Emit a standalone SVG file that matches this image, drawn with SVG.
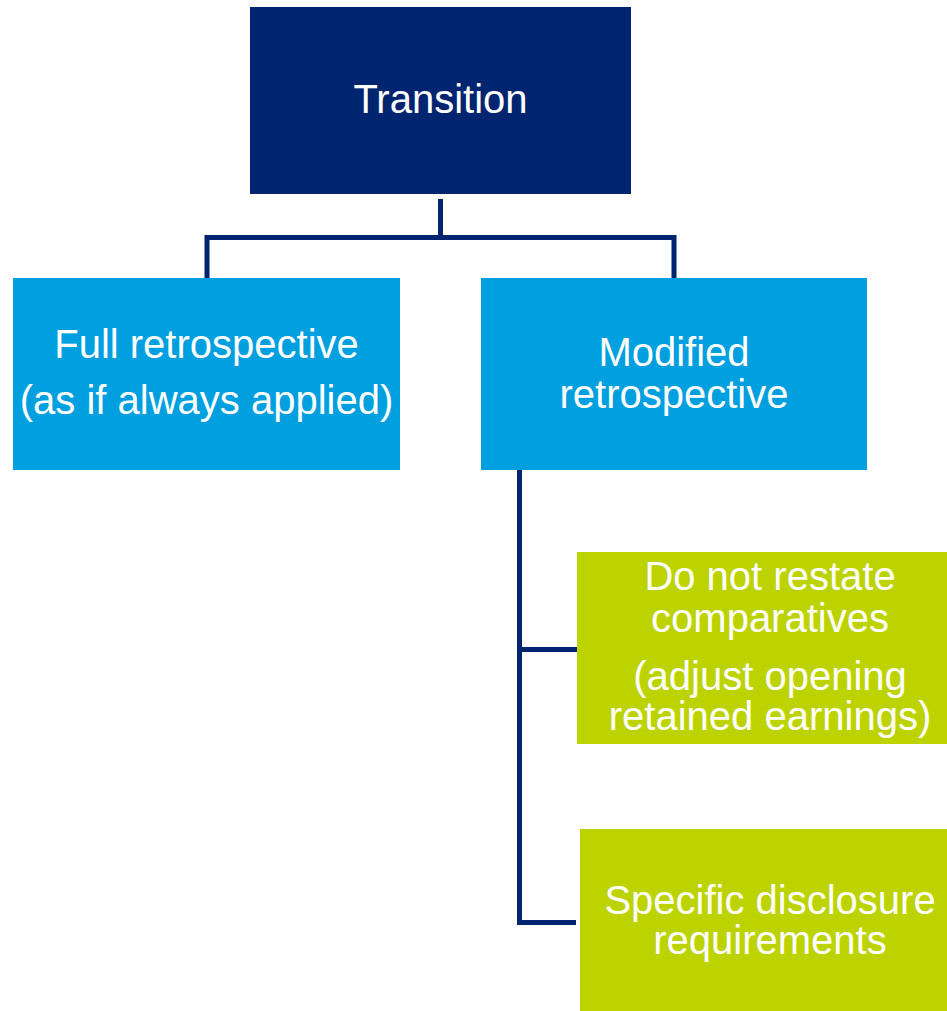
<svg xmlns="http://www.w3.org/2000/svg" width="947" height="1011" viewBox="0 0 947 1011">
  <style>
    .lbl { font-family: "Liberation Sans", Arial, sans-serif; font-size: 40px; fill: #ffffff; text-anchor: middle; }
    .conn { fill: none; stroke: #002570; stroke-width: 5; stroke-linejoin: miter; }
    .root { fill: #002570; }
    .method { fill: #009FDF; }
    .detail { fill: #BDD300; }
  </style>

  <!-- connectors -->
  <g id="connectors">
    <path class="conn" d="M440.5 199 V237.5 M207 278 V237.5 H674 V278"/>
    <path class="conn" d="M519.5 470 V922.5 H576 M519.5 649.5 H578"/>
  </g>

  <g id="transition">
    <rect class="root" x="250" y="7" width="381" height="187"/>
    <text class="lbl" x="440.5" y="113">Transition</text>
  </g>

  <g id="full-retrospective">
    <rect class="method" x="13" y="278" width="387" height="192"/>
    <text class="lbl" x="206.5" y="358">Full retrospective</text>
    <text class="lbl" x="206.5" y="414">(as if always applied)</text>
  </g>

  <g id="modified-retrospective">
    <rect class="method" x="481" y="278" width="386" height="192"/>
    <text class="lbl" x="674" y="366">Modified</text>
    <text class="lbl" x="674" y="408">retrospective</text>
  </g>

  <g id="no-restate">
    <rect class="detail" x="577" y="552" width="370" height="192"/>
    <text class="lbl" x="770" y="590">Do not restate</text>
    <text class="lbl" x="770" y="632">comparatives</text>
    <text class="lbl" x="770" y="690">(adjust opening</text>
    <text class="lbl" x="770" y="730">retained earnings)</text>
  </g>

  <g id="disclosure">
    <rect class="detail" x="580" y="829" width="367" height="182"/>
    <text class="lbl" x="770" y="914">Specific disclosure</text>
    <text class="lbl" x="770" y="954">requirements</text>
  </g>
</svg>
